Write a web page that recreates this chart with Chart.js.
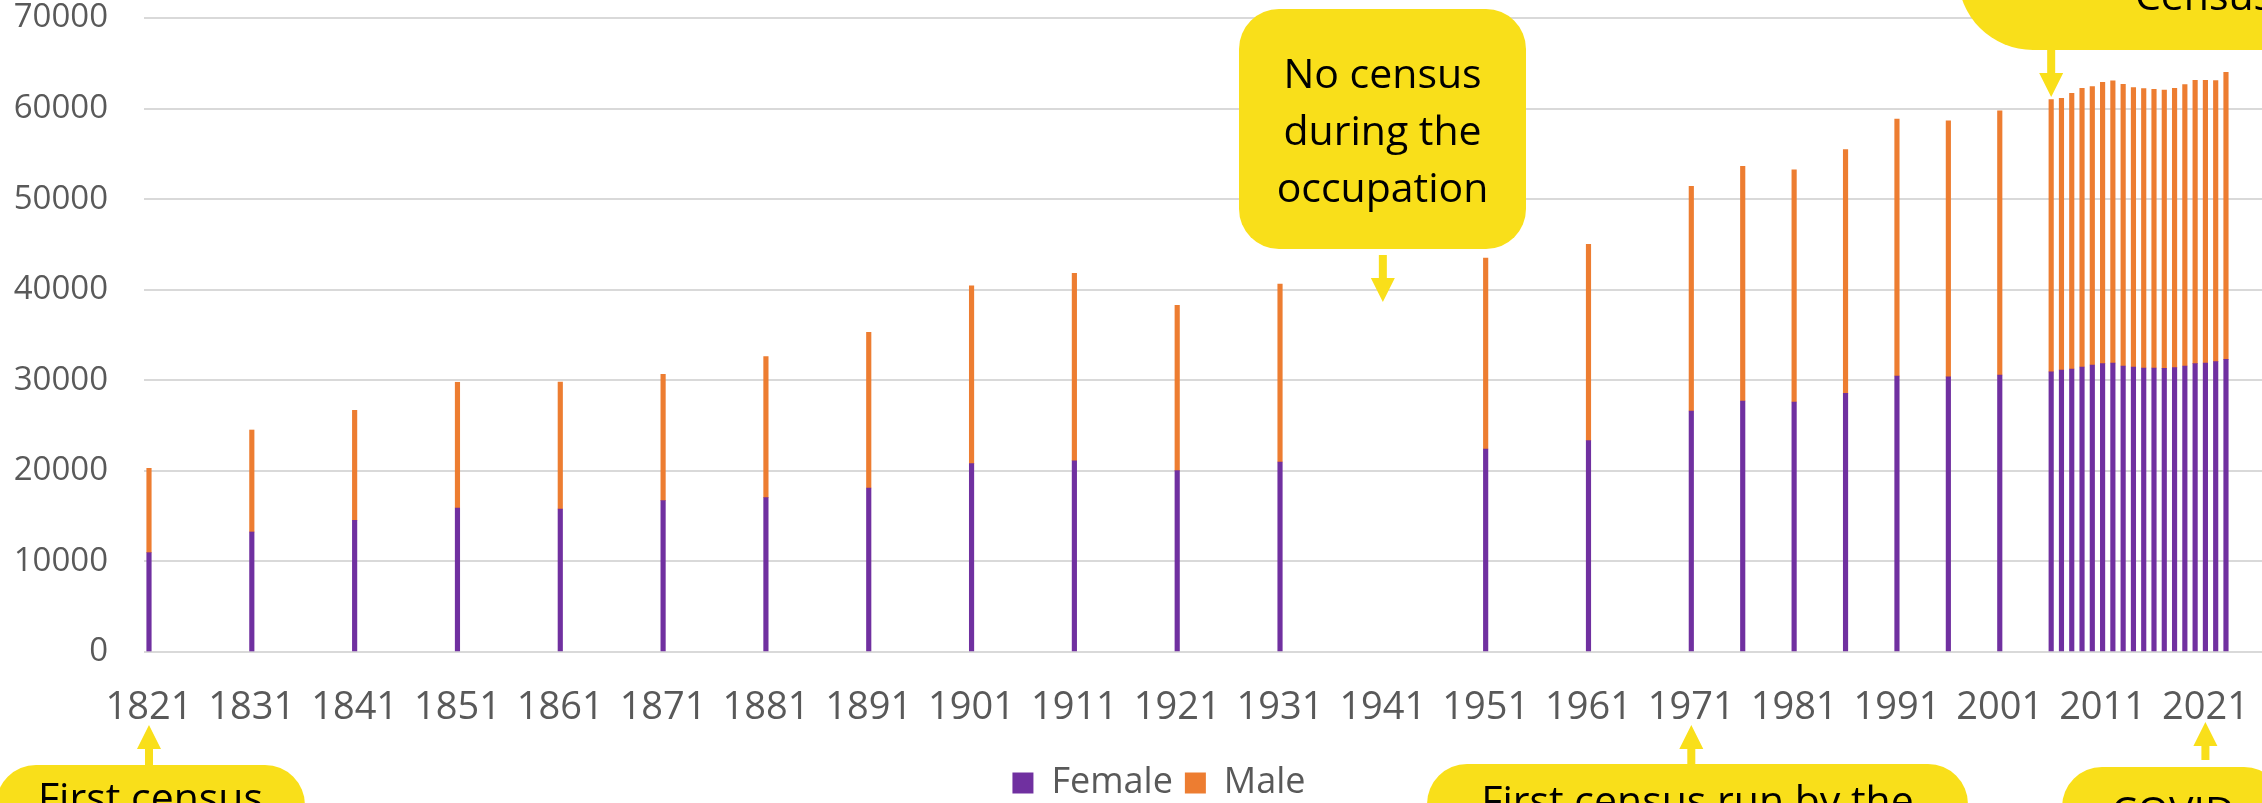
<!DOCTYPE html>
<html>
<head>
<meta charset="utf-8">
<script src="https://cdn.jsdelivr.net/npm/chart.js@4.4.1/dist/chart.umd.min.js"></script>
<style>
  html, body { margin: 0; padding: 0; background: #fff; overflow: hidden; }
  body { width: 2262px; height: 803px; position: relative; }
  #wrap { position: absolute; left: 0; top: 0; width: 2318px; height: 840px; }
</style>
</head>
<body>
<div id="wrap"><canvas id="popChart" width="2318" height="840"></canvas></div>
<script>
// census years (annual figures from 2006)
const years = [1821, 1831, 1841, 1851, 1861, 1871, 1881, 1891, 1901, 1911, 1921, 1931,
  1951, 1961, 1971, 1976, 1981, 1986, 1991, 1996, 2001,
  2006, 2007, 2008, 2009, 2010, 2011, 2012, 2013, 2014, 2015, 2016, 2017, 2018, 2019, 2020, 2021, 2022, 2023];

const female = [10970, 13250, 14540, 15900, 15790, 16710, 17040, 18110, 20790, 21120, 20030, 20980,
  22410, 23330, 26610, 27710, 27600, 28560, 30470, 30380, 30580,
  30930, 31140, 31250, 31470, 31690, 31840, 31910, 31580, 31470, 31360, 31360, 31320, 31390, 31580, 31840, 31910, 32060, 32310];

const male = [9310, 11260, 12140, 13880, 14020, 13950, 15570, 17190, 19650, 20690, 18250, 19650,
  21090, 21680, 24810, 25910, 25650, 26900, 28380, 28270, 29180,
  30070, 30000, 30440, 30770, 30730, 31060, 31140, 31100, 30840, 30840, 30770, 30730, 30850, 31060, 31280, 31210, 31020, 31700];

const tickYears = [1821, 1831, 1841, 1851, 1861, 1871, 1881, 1891, 1901, 1911, 1921,
  1931, 1941, 1951, 1961, 1971, 1981, 1991, 2001, 2011, 2021];

const FONT = "'Open Sans', 'Liberation Sans', sans-serif";
const YELLOW = '#F9DF1A';

// notes on the chart, arrows point at a year on the x axis
const callouts = [
  { year: 1821, lines: ['First census'], box: [-4, 765, 309, 120], r: 40, baseline: 812, tail: 765, tip: 725 },
  { year: 1941, lines: ['No census', 'during the', 'occupation'], box: [1239, 9, 287, 240], r: 40, baseline: 88, tail: 255, tip: 302 },
  { year: 1971, lines: ['First census run by the'], box: [1427, 764, 541, 120], r: 40, baseline: 815, tail: 764, tip: 725 },
  { year: 2006, lines: ['Census'], box: [1958, -420, 492, 470], r: 75, baseline: 10, tail: 50, tip: 97 },
  { year: 2021, lines: ['COVID'], box: [2062, 767, 222, 120], r: 40, baseline: 826, tail: 760, tip: 722 }
];

function roundBox(ctx, x, y, w, h, r) {
  ctx.beginPath();
  ctx.moveTo(x + r, y);
  ctx.lineTo(x + w - r, y);
  ctx.arcTo(x + w, y, x + w, y + r, r);
  ctx.lineTo(x + w, y + h - r);
  ctx.arcTo(x + w, y + h, x + w - r, y + h, r);
  ctx.lineTo(x + r, y + h);
  ctx.arcTo(x, y + h, x, y + h - r, r);
  ctx.lineTo(x, y + r);
  ctx.arcTo(x, y, x + r, y, r);
  ctx.closePath();
  ctx.fill();
}

function arrow(ctx, x, tail, tip) {
  const dir = Math.sign(tip - tail);
  const base = tip - dir * 24;
  ctx.beginPath();
  ctx.moveTo(x - 4, tail);
  ctx.lineTo(x - 4, base);
  ctx.lineTo(x - 12, base);
  ctx.lineTo(x, tip);
  ctx.lineTo(x + 12, base);
  ctx.lineTo(x + 4, base);
  ctx.lineTo(x + 4, tail);
  ctx.closePath();
  ctx.fill();
}

const calloutPlugin = {
  id: 'callouts',
  afterDraw(chart) {
    const ctx = chart.ctx;
    const xs = chart.scales.x;
    ctx.save();
    callouts.forEach(c => {
      const [bx, by, bw, bh] = c.box;
      ctx.fillStyle = YELLOW;
      roundBox(ctx, bx, by, bw, bh, c.r);
      arrow(ctx, xs.getPixelForValue(c.year), c.tail, c.tip);
      ctx.fillStyle = '#000';
      ctx.font = '41px ' + FONT;
      ctx.textAlign = 'center';
      ctx.textBaseline = 'alphabetic';
      c.lines.forEach((line, i) => {
        ctx.fillText(line, bx + bw / 2, c.baseline + i * 57);
      });
    });
    ctx.restore();
  }
};

const toPoints = vals => vals.map((v, i) => ({ x: years[i], y: v }));

new Chart(document.getElementById('popChart'), {
  type: 'bar',
  data: {
    datasets: [
      { label: 'Female', data: toPoints(female), backgroundColor: '#7030A0', barThickness: 4.5 },
      { label: 'Male', data: toPoints(male), backgroundColor: '#ED7D31', barThickness: 4.5 }
    ]
  },
  options: {
    responsive: false,
    animation: false,
    devicePixelRatio: 1,
    layout: { padding: { top: 18, right: 0, bottom: 29, left: 0 } },
    plugins: {
      tooltip: { enabled: false },
      legend: {
        position: 'bottom',
        labels: {
          boxWidth: 21,
          boxHeight: 21,
          padding: 12,
          color: '#595959',
          font: { family: FONT, size: 36 }
        }
      }
    },
    scales: {
      x: {
        type: 'linear',
        stacked: true,
        offset: false,
        min: 1820.514,
        max: 2031.95,
        afterBuildTicks: scale => { scale.ticks = tickYears.map(v => ({ value: v })); },
        afterFit: scale => {
          scale.height = 101;
          scale.paddingLeft = 0;
          scale.paddingRight = 0;
        },
        grid: { display: false, drawTicks: false, offset: false },
        border: { display: false },
        ticks: {
          autoSkip: false,
          maxRotation: 0,
          padding: 33,
          color: '#595959',
          font: { family: FONT, size: 38 },
          callback: v => String(v)
        }
      },
      y: {
        stacked: true,
        min: 0,
        max: 70000,
        afterFit: scale => {
          scale.width = 144;
          scale.paddingTop = 0;
          scale.paddingBottom = 0;
        },
        grid: { color: '#D9D9D9', lineWidth: 2, drawTicks: false },
        border: { display: false },
        ticks: {
          stepSize: 10000,
          padding: 36,
          color: '#595959',
          font: { family: FONT, size: 33, lineHeight: 1 },
          callback: v => String(v)
        }
      }
    }
  },
  plugins: [calloutPlugin]
});
</script>
</body>
</html>
